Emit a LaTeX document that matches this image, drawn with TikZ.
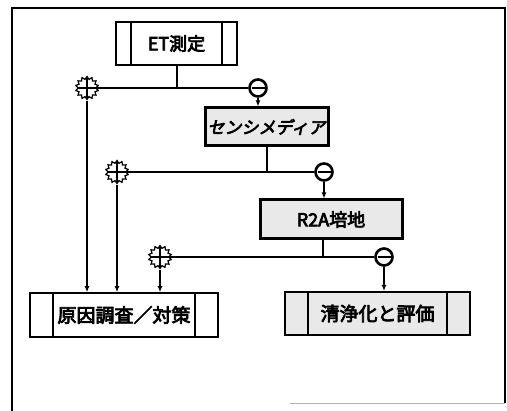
\documentclass[tikz,border=0pt]{standalone}
\usepackage{fontspec}
\newfontfamily\jp{Noto Sans CJK JP}[FakeBold=4]
\newfontfamily\jpsl{Noto Sans CJK JP}[FakeBold=4,FakeSlant=0.2]
\usetikzlibrary{shapes.geometric,arrows.meta}
\tikzset{
  conn/.style={line width=2pt},
  arr/.style={line width=2pt,-{Latex[length=6pt,width=5pt]}},
  procbox/.style={draw,line width=1.6pt,fill=white,minimum height=43pt,inner sep=0pt,font=\jp\fontsize{18}{18}\selectfont},
  shadebox/.style={draw,line width=3pt,fill=gray!17,inner sep=0pt,font=\jp\fontsize{18}{18}\selectfont},
  sidelines/.style={path picture={
      \draw[line width=1.4pt] ([xshift=#1]path picture bounding box.north west) -- ([xshift=#1]path picture bounding box.south west);
      \draw[line width=1.4pt] ([xshift=-#1]path picture bounding box.north east) -- ([xshift=-#1]path picture bounding box.south east);}},
  plusnode/.style={star,star points=14,star point ratio=1.3,minimum size=23pt,inner sep=0pt,draw,line width=1.2pt,fill=white,
    path picture={
      \draw[line width=2.2pt] (path picture bounding box.north) -- (path picture bounding box.south);
      \draw[line width=2.2pt] (path picture bounding box.west) -- (path picture bounding box.east);}},
  minusnode/.style={circle,minimum size=17pt,inner sep=0pt,draw,line width=2.6pt,fill=white,
    path picture={
      \draw[line width=2pt] ([xshift=2pt]path picture bounding box.west) -- ([xshift=-2pt]path picture bounding box.east);}}
}
\begin{document}
\begin{tikzpicture}[x=1pt,y=-1pt]
\useasboundingbox (0,0) rectangle (507,411);
% frame
\draw[line width=1.8pt] (12,411) -- (12,8) -- (505,8) -- (505,403);
\draw[line width=0.6pt,gray!60] (290,403) -- (505,403);
% boxes
\node[procbox,minimum width=121pt,sidelines=15pt] (et) at (176.5,43.5) {ET測定};
\node[shadebox,minimum width=123pt,minimum height=38pt,font=\jpsl\fontsize{17}{17}\selectfont] (sm) at (266.5,127) {センシメディア};
\node[shadebox,minimum width=142pt,minimum height=39pt] (r2a) at (331,219.5) {R2A培地};
\node[procbox,minimum width=188pt,minimum height=44pt,sidelines=23pt,font=\jp\fontsize{19}{19}\selectfont] (gen) at (124,315) {原因調査／対策};
\node[shadebox,line width=2.2pt,minimum width=185pt,minimum height=43pt,sidelines=23pt,font=\jp\fontsize{19}{19}\selectfont] (sei) at (377.5,313.5) {清浄化と評価};
% junction markers
\node[plusnode] (p1) at (87,88) {};
\node[plusnode] (p2) at (117,172) {};
\node[plusnode] (p3) at (160,257) {};
\node[minusnode] (m1) at (258,88) {};
\node[minusnode] (m2) at (324,172) {};
\node[minusnode] (m3) at (384,257) {};
% connectors
\draw[conn] (et.south) -- (et.south |- p1);
\draw[conn] (p1) -- (m1);
\draw[arr] (m1) -- (m1 |- sm.north);
\draw[arr] (p1) -- (p1 |- gen.north);
\draw[conn] (sm.south) -- (sm.south |- p2);
\draw[conn] (p2) -- (m2);
\draw[arr] (m2) -- (m2 |- r2a.north);
\draw[arr] (p2) -- (p2 |- gen.north);
\coordinate (r2out) at ([xshift=-8pt]r2a.south);
\draw[conn] (r2out) -- (r2out |- p3);
\draw[conn] (p3) -- (m3);
\draw[arr] (m3) -- (m3 |- sei.north);
\draw[arr] (p3) -- (p3 |- gen.north);
\end{tikzpicture}
\end{document}
